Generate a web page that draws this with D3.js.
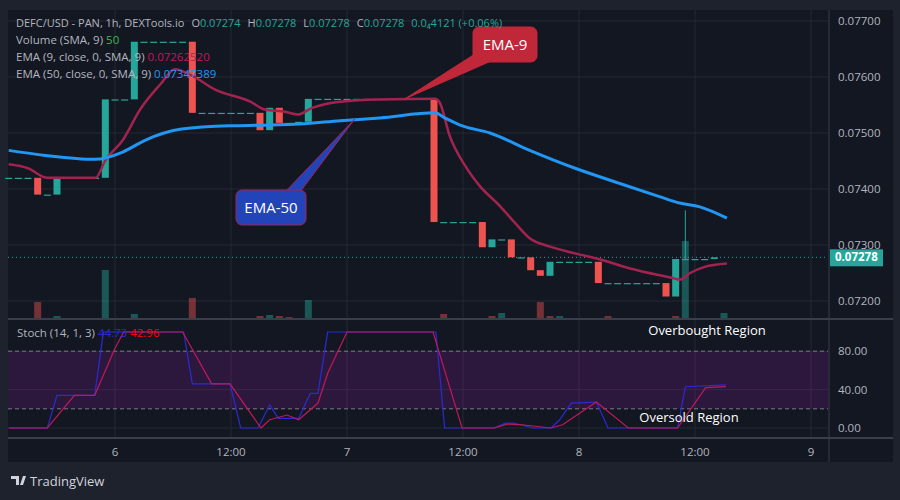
<!DOCTYPE html>
<html><head><meta charset="utf-8">
<script src="https://cdn.jsdelivr.net/npm/d3@7"></script>
<style>body{margin:0;background:#1e222d;font-family:"Open Sans",sans-serif}</style>
</head><body>
<script>
// hours counted from day 6 00:00
var startHour=-11
var closes=[0.0742,0.0742,0.0742,0.0739,0.0739,0.0742,0.0742,0.0742,0.0742,0.0742,0.0756,0.0756,0.0756,0.07663,
 0.07663,0.07663,0.07663,0.07663,0.07663,0.07536,0.07536,0.07536,0.07536,0.07536,0.07536,0.07536,0.07505,0.07545,0.07518,
 0.07518,0.0752,0.07561,0.07561,0.07561,0.07561,0.07561,0.07561,0.07561,0.07561,0.07561,0.07561,0.07561,0.07561,0.07561,
 0.07341,0.07341,0.07341,0.07341,0.07341,0.07296,0.0731,0.0731,0.07278,0.07278,0.07255,0.07245,0.0727,0.0727,0.0727,
 0.0727,0.0727,0.07232,0.07232,0.07232,0.07232,0.07232,0.07232,0.07232,0.07208,0.07275,0.07275,0.07275,0.07275,0.07278]
var firstOpen=0.0742
var wicks=[[59,0.07362]]
var volumes=[[-8,-16],[-6,2],[-1,48],[2,4],[8,-20],[15,-2],[16,3],[17,-2],[18,-1],[20,18],[34,-4],[39,-2],[40,5],
 [44,-16],[45,-2],[46,2],[51,-2],[58,-2],[59,77],[63,5]]
var ema9=[[-11,0.07444],[-9,0.07437],[-7,0.0742],[-2,0.0742],[-1,0.07451],[0.8,0.07487],[2.6,0.07542],[4.7,0.07587],
 [6.2,0.07614],[8.1,0.07601],[10.3,0.07578],[14,0.07556],[15.5,0.07542],[17.6,0.07538],[18.9,0.07533],[20.4,0.07545],
 [23.3,0.07556],[27.4,0.0756],[33.1,0.07561],[33.6,0.07554],[34.6,0.07496],[36.2,0.07442],[37.7,0.07406],[39.8,0.0737],
 [41.4,0.07339],[42.9,0.07312],[45,0.07297],[47.6,0.07285],[50.2,0.07274],[53.3,0.07258],[57.9,0.0724],[58.4,0.07238],
 [59.5,0.0725],[61,0.07261],[63.3,0.07267]]
var ema50=[[-11,0.07469],[-7.2,0.0746],[-2.1,0.07453],[0.8,0.07466],[3.1,0.07487],[6.9,0.07507],[11.9,0.07513],
 [15.5,0.07514],[19.1,0.07516],[23.3,0.07522],[27.4,0.07527],[33.1,0.07536],[34.1,0.07527],[35.7,0.07514],[38.8,0.075],
 [42.9,0.07469],[47.6,0.07437],[52.2,0.0741],[56.4,0.07386],[58.4,0.07375],[60.5,0.07368],[63.3,0.07348]]
var stochK=[[-11,0],[-7,0],[-6,34],[-2.1,34],[-1.2,100],[-0.3,100],[7.1,100],[8,46],[11.9,46],[13,0],[14.8,0],[16,24],
 [16.9,10],[19,10],[20.2,36],[21,36],[22,100],[33.2,100],[34.1,0],[39.2,0],[40.4,5],[41.2,5],[43.3,0],[45.1,0],[46,8.6],
 [47.2,26],[49.8,27],[51,0],[58.2,0],[59,43],[63.2,45]]
var stochD=[[-11,0],[-7,0],[-4.2,34],[-2.1,34],[0,83],[0.9,100],[7,100],[10,46],[11.9,46],[15.1,0],[16,8.6],[17.8,13.5],
 [19,8.6],[21,26],[22,57],[24,100],[32.9,100],[35.9,0],[39.2,0],[40.6,4],[42.1,3.4],[45.1,0],[46.3,3.4],[49.8,27],
 [53.1,0],[58.2,0],[61.1,42],[63.2,43]]
var priceTicks=[0.072,0.073,0.074,0.075,0.076,0.077]
var stochTicks=[0,40,80]
var timeTicks=[[0,"6"],[12,"12:00"],[24,"7"],[36,"12:00"],[48,"8"],[60,"12:00"],[72,"9"]]
var lastPrice=0.07278
var ohlcLabels=[["O","0.07274"],["H","0.07278"],["L","0.07278"],["C","0.07278"],["","0.0₄4121 (+0.06%)"]]

var W=900,H=500
var svg=d3.select("body").append("svg").attr("width",W).attr("height",H)
svg.append("rect").attr("width",W).attr("height",H).attr("fill","#1e222d")
svg.append("rect").attr("x",8).attr("y",10).attr("width",885).attr("height",452).attr("fill","#131722")

var x=d3.scaleLinear().domain([0,12]).range([115,231])
var y=d3.scaleLinear().domain([0.075,0.076]).range([133,77])
var ys=d3.scaleLinear().domain([0,100]).range([428,332])
var yv=d3.scaleLinear().domain([0,77]).range([318,241])
var grid="#242833",txt="#b2b5be"

// grid
var g=svg.append("g")
priceTicks.forEach(function(p){g.append("line").attr("x1",8).attr("x2",828).attr("y1",y(p)).attr("y2",y(p)).attr("stroke",grid)})
timeTicks.forEach(function(t){g.append("line").attr("x1",x(t[0])).attr("x2",x(t[0])).attr("y1",10).attr("y2",437).attr("stroke",grid)})
stochTicks.forEach(function(v){g.append("line").attr("x1",8).attr("x2",828).attr("y1",ys(v)).attr("y2",ys(v)).attr("stroke",grid)})

// volume
svg.selectAll(".vol").data(volumes).enter().append("rect")
 .attr("x",function(d){return x(d[0])-3.5}).attr("width",7)
 .attr("y",function(d){return yv(Math.abs(d[1]))}).attr("height",function(d){return yv(0)-yv(Math.abs(d[1]))})
 .attr("fill",function(d){return d[1]>=0?"rgba(38,166,154,0.45)":"rgba(239,83,80,0.45)"})

// last price dotted
svg.append("line").attr("x1",8).attr("x2",828).attr("y1",y(lastPrice)).attr("y2",y(lastPrice))
 .attr("stroke","#26a69a").attr("stroke-dasharray","1,3")

// candles
var candles=closes.map(function(c,i){return {h:startHour+i,o:i?closes[i-1]:firstOpen,c:c}})
wicks.forEach(function(w){svg.append("line").attr("x1",x(w[0])).attr("x2",x(w[0])).attr("y1",y(w[1])).attr("y2",y(closes[w[0]-startHour]))
 .attr("stroke","#26a69a")})
svg.selectAll(".c").data(candles).enter().append("rect")
 .attr("x",function(d){return x(d.h)-3.5}).attr("width",7)
 .attr("y",function(d){return y(Math.max(d.o,d.c))})
 .attr("height",function(d){return Math.max(1.2,Math.abs(y(d.o)-y(d.c)))})
 .attr("fill",function(d){return d.c>=d.o?"#26a69a":"#ef5350"})

var line=d3.line().x(function(d){return x(d[0])}).y(function(d){return y(d[1])}).curve(d3.curveMonotoneX)
svg.append("path").attr("d",line(ema9)).attr("fill","none").attr("stroke","#a3234f").attr("stroke-width",2.5)
svg.append("path").attr("d",line(ema50)).attr("fill","none").attr("stroke","#2196f3").attr("stroke-width",3)

// callouts
function callout(tip,bx,by,bw,fill,stroke,label,base){
  var t=[x(tip[0]),y(tip[1])]
  svg.append("path").attr("d","M"+base[0]+","+base[1]+"L"+t[0]+","+t[1]+"L"+base[2]+","+base[3]+"Z").attr("fill",fill).attr("stroke",stroke)
  svg.append("rect").attr("x",bx).attr("y",by).attr("width",bw).attr("height",35).attr("rx",6).attr("fill",fill).attr("stroke",stroke)
  svg.append("text").attr("x",bx+bw/2).attr("y",by+23).attr("text-anchor","middle").attr("fill","#fff").attr("font-size",15).text(label)
}
callout([30,0.07561],473,27,64,"#c0283a","#c0283a","EMA-9",[478,52,498,58])
callout([24.8,0.07525],236,190,70,"#2344b8","#a3234f","EMA-50",[285,192,300,192])

// separators and axis
svg.append("line").attr("x1",8).attr("x2",893).attr("y1",319).attr("y2",319).attr("stroke","#3a3e4a").attr("stroke-width",2)
svg.append("line").attr("x1",8).attr("x2",893).attr("y1",438).attr("y2",438).attr("stroke","#3a3e4a").attr("stroke-width",2)
svg.append("line").attr("x1",829).attr("x2",829).attr("y1",10).attr("y2",462).attr("stroke","#3a3e4a")
priceTicks.forEach(function(p){svg.append("text").attr("x",838).attr("y",y(p)+4).attr("fill",txt).attr("font-size",11.5).text(p.toFixed(5))})
svg.append("rect").attr("x",830).attr("y",y(lastPrice)-8).attr("width",53).attr("height",17).attr("fill","#26a69a")
svg.append("text").attr("x",835).attr("y",y(lastPrice)+4).attr("fill","#fff").attr("font-size",11.5).attr("font-weight","bold").text(lastPrice.toFixed(5))
timeTicks.forEach(function(t){svg.append("text").attr("x",x(t[0])).attr("y",456).attr("text-anchor","middle").attr("fill",txt).attr("font-size",11.5).text(t[1])})

// stoch pane
svg.append("rect").attr("x",8).attr("y",ys(80)).attr("width",820).attr("height",ys(20)-ys(80)).attr("fill","rgba(140,30,160,0.22)")
;[20,80].forEach(function(v){svg.append("line").attr("x1",8).attr("x2",828).attr("y1",ys(v)).attr("y2",ys(v)).attr("stroke","#787b86").attr("stroke-dasharray","4,3")})
var sl=d3.line().x(function(d){return x(d[0])}).y(function(d){return ys(d[1])})
svg.append("path").attr("d",sl(stochK)).attr("fill","none").attr("stroke","#2b2bd6").attr("stroke-width",1.2)
svg.append("path").attr("d",sl(stochD)).attr("fill","none").attr("stroke","#c2185b").attr("stroke-width",1.2)
stochTicks.forEach(function(v){svg.append("text").attr("x",838).attr("y",ys(v)+4).attr("fill",txt).attr("font-size",11.5).text(v.toFixed(2))})
svg.append("text").attr("x",707).attr("y",335).attr("text-anchor","middle").attr("fill","#fff").attr("font-size",13).text("Overbought Region")
svg.append("text").attr("x",689).attr("y",422).attr("text-anchor","middle").attr("fill","#fff").attr("font-size",13).text("Oversold Region")
var st=svg.append("text").attr("x",17).attr("y",337).attr("font-size",11.5).attr("fill",txt)
st.append("tspan").text("Stoch (14, 1, 3)  ")
st.append("tspan").attr("fill","#2b2bd6").text("44.73 ")
st.append("tspan").attr("fill","#f00").text("42.96")

// legend
var teal="#26a69a"
var lx=svg.append("text").attr("x",16).attr("y",27).attr("font-size",11).attr("fill",txt).text("DEFC/USD - PAN, 1h, DEXTools.io")
var cx=16+lx.node().getComputedTextLength()+7
ohlcLabels.forEach(function(o){
  var t=svg.append("text").attr("x",cx).attr("y",27).attr("font-size",11).attr("fill",txt)
  t.append("tspan").text(o[0]); t.append("tspan").attr("fill",teal).text(o[1])
  cx+=t.node().getComputedTextLength()+7
})
var rows=[["Volume (SMA, 9)","50","#3fb950"],["EMA (9, close, 0, SMA, 9)","0.07262520","#c2185b"],["EMA (50, close, 0, SMA, 9)","0.07347389","#2196f3"]]
rows.forEach(function(r,i){
  var t=svg.append("text").attr("x",16).attr("y",44+i*17).attr("font-size",11.5).attr("fill",txt)
  t.append("tspan").text(r[0]+"  "); t.append("tspan").attr("fill",r[2]).text(r[1])
})
svg.append("path").attr("d","M11,476h8v9h-3v-6h-5zM20,485l3-9h3l-3,9z").attr("fill","#d1d4dc")
svg.append("text").attr("x",30).attr("y",486).attr("fill","#d1d4dc").attr("font-size",13).text("TradingView")
</script>
</body></html>
